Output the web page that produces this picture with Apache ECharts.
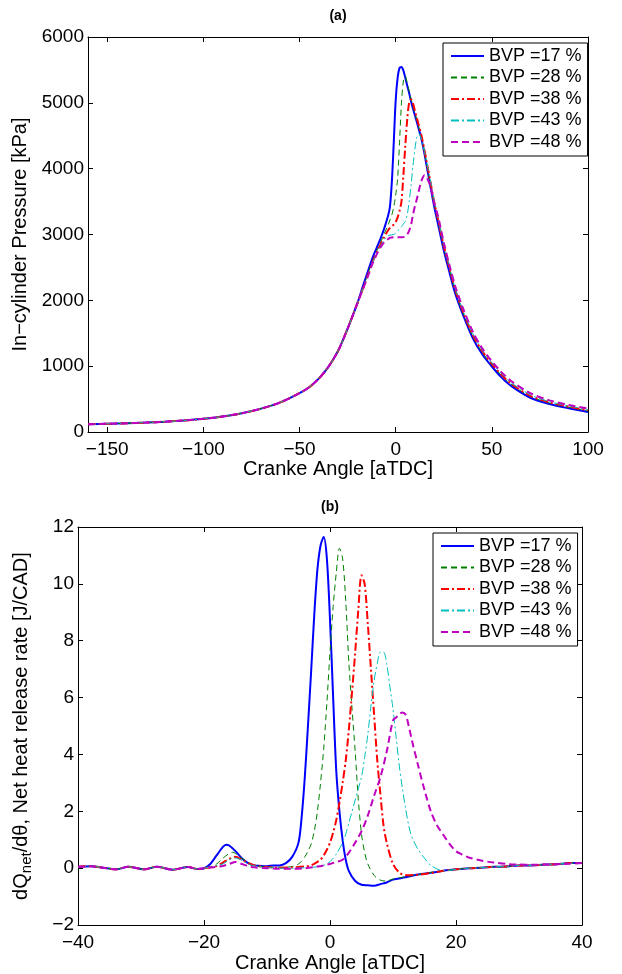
<!DOCTYPE html>
<html>
<head>
<meta charset="utf-8">
<script src="https://cdn.jsdelivr.net/npm/echarts@6/dist/echarts.min.js"></script>
<style>
  html, body { margin: 0; padding: 0; background: #fff; }
  #chart { width: 622px; height: 974px; }
</style>
</head>
<body>
<div id="chart"></div>
<script>
// series names
const names = ['BVP =17 %', 'BVP =28 %', 'BVP =38 %', 'BVP =43 %', 'BVP =48 %']

// ---- (a) in-cylinder pressure [kPa] vs crank angle ----
const caTop = [-160, -150, -140, -130, -120, -110, -100, -90, -80, -70, -60, -50, -45, -40, -35, -30, -25, -20,
  -17, -14, -12, -10, -8, -6, -4, -3, -2, -1, 0, 1, 2, 3, 4, 5, 6, 7, 8, 9, 10, 11, 12, 13, 14, 15, 16,
  18, 20, 22, 25, 28, 31, 35, 40, 45, 50, 55, 60, 70, 80, 90, 100]
// compression part, same for every case (-160 .. -20)
const pMotored = [118, 125, 133, 143, 157, 175, 200, 235, 285, 355, 450, 590, 680, 810, 990, 1230, 1570, 1950]
// from -17 on
const p17 = [2220, 2480, 2650, 2790, 2930, 3090, 3280, 3420, 3800, 4400, 5040, 5380, 5530, 5545, 5490, 5380, 5260,
  5150, 5020, 4910, 4810, 4710, 4600, 4500, 4370, 4220, 4060,
  3740, 3430, 3160, 2760, 2420, 2100, 1780, 1430, 1180, 995, 830, 700, 520, 425, 360, 305]
const p28 = [2190, 2440, 2600, 2740, 2870, 3010, 3140, 3220, 3300, 3420, 3600, 3850, 4400, 5000, 5330, 5400, 5300,
  5180, 5060, 4950, 4840, 4740, 4630, 4520, 4390, 4250, 4090,
  3780, 3470, 3200, 2800, 2460, 2140, 1810, 1460, 1210, 1020, 860, 725, 540, 440, 375, 320]
const p38 = [2180, 2420, 2580, 2720, 2840, 2960, 3060, 3100, 3130, 3150, 3190, 3260, 3360, 3500, 3900, 4350, 4750,
  5000, 5050, 4990, 4880, 4770, 4660, 4550, 4420, 4280, 4120,
  3810, 3500, 3230, 2830, 2490, 2160, 1830, 1480, 1230, 1035, 870, 735, 550, 450, 385, 330]
const p43 = [2180, 2410, 2570, 2710, 2820, 2920, 2980, 2990, 2995, 3000, 3020, 3050, 3090, 3120, 3160, 3200, 3300,
  3500, 3750, 4050, 4300, 4480, 4540, 4480, 4380, 4260, 4120,
  3830, 3520, 3250, 2850, 2510, 2180, 1850, 1500, 1245, 1050, 885, 750, 565, 460, 395, 340]
const p48 = [2170, 2400, 2560, 2690, 2800, 2880, 2930, 2950, 2955, 2958, 2958, 2958, 2958, 2958, 2960, 2970, 3000,
  3060, 3150, 3300, 3430, 3540, 3660, 3780, 3860, 3900, 3870,
  3740, 3480, 3280, 2880, 2530, 2210, 1880, 1530, 1270, 1075, 910, 775, 590, 480, 410, 355]
const xTicksTop = [-150, -100, -50, 0, 50, 100]

// ---- (b) net heat release rate [J/CAD] vs crank angle, [angle, value] ----
const hrrBase = [[-40, 0.05], [-38, 0.07], [-36, 0.02], [-34, -0.04], [-32, 0.05], [-29.5, -0.04], [-27.5, 0.05],
  [-25, -0.05], [-22.5, 0.04], [-21, -0.03]]
const hrrTail = [[18, -0.09], [20, -0.04], [22, 0.0], [24, 0.02], [26, 0.05], [28, 0.06], [30, 0.1], [32, 0.1],
  [34, 0.13], [36, 0.14], [38, 0.18], [40, 0.18]]
const hrr17 = [[-20, 0.0], [-19, 0.15], [-18, 0.45], [-17, 0.75], [-16.5, 0.83], [-16, 0.8], [-15, 0.6], [-14, 0.35],
  [-13, 0.18], [-12, 0.1], [-11, 0.08], [-10, 0.07], [-9, 0.1], [-8, 0.1], [-7, 0.18], [-6, 0.4], [-5, 0.9],
  [-4.5, 1.8], [-4, 3.2], [-3.5, 5.0], [-3, 6.9], [-2.5, 8.9], [-2, 10.5], [-1.5, 11.35], [-1, 11.65], [-0.5, 10.9],
  [0, 8.75], [0.5, 6.0], [1, 3.4], [1.5, 2.0], [2, 1.0], [2.5, 0.3], [3, -0.1], [4, -0.45], [5, -0.58], [6, -0.6],
  [7, -0.62], [8, -0.56], [9, -0.5], [10, -0.4], [12, -0.32], [14, -0.22], [16, -0.16]]
const hrr28 = [[-20, 0.0], [-19, 0.05], [-18, 0.15], [-17, 0.35], [-16, 0.52], [-15.5, 0.56], [-15, 0.52], [-14, 0.35],
  [-13, 0.2], [-12, 0.1], [-11, 0.06], [-10, 0.04], [-8, 0.03], [-6, 0.06], [-5, 0.15], [-4.5, 0.25], [-4, 0.4],
  [-3.5, 0.6], [-3, 0.85], [-2.5, 1.3], [-2, 2.0], [-1.5, 3.0], [-1, 4.2], [-0.5, 5.8], [0, 7.6], [0.5, 9.2],
  [1, 10.4], [1.5, 11.25], [2, 10.9], [2.5, 9.4], [3, 7.2], [3.5, 5.6], [4, 4.1], [4.5, 2.4], [5, 1.2], [5.5, 0.55],
  [6, 0.15], [7, -0.25], [8, -0.42], [9, -0.45], [10, -0.38], [12, -0.3], [14, -0.22], [16, -0.15]]
const hrr38 = [[-20, 0.0], [-18, 0.08], [-17, 0.2], [-16, 0.33], [-15, 0.4], [-14, 0.3], [-13, 0.18], [-12, 0.1],
  [-10, 0.04], [-8, 0.02], [-6, 0.03], [-4, 0.06], [-3, 0.1], [-2, 0.22], [-1.5, 0.3], [-1, 0.45], [-0.5, 0.65],
  [0, 0.9], [0.5, 1.25], [1, 1.7], [1.5, 2.3], [2, 3.0], [2.5, 3.8], [3, 4.9], [3.5, 6.2], [4, 7.6], [4.5, 9.1],
  [5, 10.3], [5.5, 10.0], [6, 8.6], [6.5, 7.0], [7, 5.4], [7.5, 3.8], [8, 2.6], [8.5, 1.5], [9, 0.9], [10, 0.15],
  [11, -0.15], [12, -0.25], [14, -0.23], [16, -0.17]]
const hrr43 = [[-20, 0.0], [-17, 0.15], [-16, 0.3], [-15, 0.36], [-14, 0.28], [-13, 0.15], [-12, 0.08], [-10, 0.03],
  [-8, 0.0], [-6, 0.0], [-4, 0.02], [-2, 0.05], [-1, 0.1], [0, 0.23], [1, 0.5], [2, 0.9], [2.5, 1.2], [3, 1.6],
  [3.5, 2.0], [4, 2.4], [4.5, 2.8], [5, 3.2], [5.5, 3.9], [6, 4.7], [6.5, 5.7], [7, 6.6], [7.5, 7.2], [8, 7.6],
  [8.5, 7.6], [9, 7.2], [9.5, 6.4], [10, 5.6], [10.5, 4.6], [11, 3.6], [11.5, 2.8], [12, 2.1], [12.5, 1.5],
  [13, 1.1], [14, 0.65], [15, 0.35], [16, 0.1]]
const hrr48 = [[-20, 0.0], [-17, 0.08], [-16, 0.15], [-15, 0.22], [-14, 0.15], [-13, 0.08], [-12, 0.03], [-10, 0.0],
  [-8, -0.02], [-6, -0.02], [-4, 0.0], [-2, 0.06], [-1, 0.1], [0, 0.15], [1, 0.22], [2, 0.3], [3, 0.55], [4, 0.9],
  [5, 1.3], [6, 1.85], [7, 2.55], [8, 3.2], [9, 4.1], [10, 5.2], [10.5, 5.3], [11, 5.42], [11.5, 5.48], [12, 5.4],
  [12.5, 5.0], [13, 4.5], [14, 3.6], [15, 2.75], [16, 2.0], [17, 1.5], [18, 1.17], [19, 0.85], [20, 0.6], [21, 0.48],
  [22, 0.38], [24, 0.27], [26, 0.2], [28, 0.15], [30, 0.13], [32, 0.12], [34, 0.13], [36, 0.14], [38, 0.16], [40, 0.18]]

const FONT = 'Liberation Sans'
const lineStyles = [
  { color: '#0000ff', width: 2, type: 'solid' },
  { color: '#008000', width: 1, type: [6, 4] },
  { color: '#ff0000', width: 2, type: [8, 3, 2, 3] },
  { color: '#00bfbf', width: 1, type: [8, 3, 2, 3] },
  { color: '#bf00bf', width: 2, type: [7, 4] }
]

// plain numbers, with a real minus sign
const minusSign = (v) => String(v).replace('-', '\u2212')

// pressure curves = motored part + each case
const pTop = [p17, p28, p38, p43, p48].map(p => caTop.map((a, i) => [a, i < pMotored.length ? pMotored[i] : p[i - pMotored.length]]))
const hrrBottom = [
  hrrBase.concat(hrr17, hrrTail),
  hrrBase.concat(hrr28, hrrTail),
  hrrBase.concat(hrr38, hrrTail),
  hrrBase.concat(hrr43, hrrTail),
  hrrBase.concat(hrr48)
]

const chart = echarts.init(document.getElementById('chart'), null, { renderer: 'canvas' })

// MATLAB style box: ticks inside on all four sides
function frameAxis (gridIndex, pos, min, max, extra) {
  return Object.assign({
    type: 'value',
    gridIndex: gridIndex,
    position: pos,
    min: min,
    max: max,
    axisLine: { onZero: false, lineStyle: { color: '#000', width: 1 } },
    axisTick: { inside: true, length: 5, lineStyle: { color: '#000' } },
    axisLabel: { color: '#000', fontSize: 19, fontFamily: FONT, formatter: minusSign },
    splitLine: { show: false },
    nameTextStyle: { color: '#000', fontSize: 20, fontFamily: FONT }
  }, extra)
}

const legendBase = {
  orient: 'vertical',
  selectedMode: false,
  backgroundColor: '#fff',
  borderColor: '#000',
  borderWidth: 1,
  borderRadius: 0,
  padding: [3, 6, 4, 7],
  itemGap: 1.5,
  itemWidth: 33,
  itemHeight: 14,
  itemStyle: { opacity: 0 },
  textStyle: { color: '#000', fontSize: 18, fontFamily: FONT, lineHeight: 20 },
  data: names
}

const option = {
  backgroundColor: '#fff',
  animation: false,
  grid: [
    { left: 88, top: 37, width: 500, height: 395 },
    { left: 78, top: 527, width: 504, height: 400 }
  ],
  xAxis: [
    frameAxis(0, 'bottom', -160, 100, {
      axisTick: { inside: true, length: 5, customValues: xTicksTop, lineStyle: { color: '#000' } },
      axisLabel: { color: '#000', fontSize: 19, fontFamily: FONT, margin: 8, customValues: xTicksTop, formatter: minusSign },
      name: 'Cranke Angle [aTDC]', nameLocation: 'middle', nameGap: 26
    }),
    frameAxis(1, 'bottom', -40, 40, {
      interval: 20,
      axisLabel: { color: '#000', fontSize: 19, fontFamily: FONT, margin: 8, formatter: minusSign },
      name: 'Cranke Angle [aTDC]', nameLocation: 'middle', nameGap: 26
    }),
    frameAxis(0, 'top', -160, 100, {
      axisTick: { inside: true, length: 5, customValues: xTicksTop, lineStyle: { color: '#000' } },
      axisLabel: { show: false }
    }),
    frameAxis(1, 'top', -40, 40, { interval: 20, axisLabel: { show: false } })
  ],
  yAxis: [
    frameAxis(0, 'left', 0, 6000, {
      interval: 1000,
      axisLabel: { color: '#000', fontSize: 19, fontFamily: FONT, margin: 4, formatter: minusSign },
      name: 'In\u2212cylinder Pressure [kPa]', nameLocation: 'middle', nameGap: 42
    }),
    frameAxis(1, 'left', -2, 12, {
      interval: 2,
      axisLabel: { color: '#000', fontSize: 19, fontFamily: FONT, margin: 4, formatter: minusSign },
      name: 'dQ{sub|net}/d\u03b8, Net heat release rate [J/CAD]',
      nameLocation: 'middle',
      nameGap: 44,
      nameTextStyle: {
        color: '#000', fontSize: 20, fontFamily: FONT,
        rich: { sub: { fontSize: 15, fontFamily: FONT, color: '#000', padding: [10, 0, 0, 0] } }
      }
    }),
    frameAxis(0, 'right', 0, 6000, { interval: 1000, axisLabel: { show: false } }),
    frameAxis(1, 'right', -2, 12, { interval: 2, axisLabel: { show: false } })
  ],
  legend: [
    Object.assign({ left: 443, top: 43 }, legendBase),
    Object.assign({ left: 433, top: 533 }, legendBase)
  ],
  graphic: [
    { type: 'text', x: 338, y: 16, style: { text: '(a)', align: 'center', verticalAlign: 'middle', font: 'bold 14px "Liberation Sans"', fill: '#000' } },
    { type: 'text', x: 330, y: 507, style: { text: '(b)', align: 'center', verticalAlign: 'middle', font: 'bold 14px "Liberation Sans"', fill: '#000' } }
  ],
  series: []
}

names.forEach((n, i) => {
  option.series.push({
    name: n, type: 'line', xAxisIndex: 0, yAxisIndex: 0,
    data: pTop[i], symbol: 'none', smooth: 0.3,
    lineStyle: lineStyles[i], itemStyle: { color: lineStyles[i].color }
  })
})
names.forEach((n, i) => {
  option.series.push({
    name: n, type: 'line', xAxisIndex: 1, yAxisIndex: 1,
    data: hrrBottom[i], symbol: 'none', smooth: 0.3,
    lineStyle: lineStyles[i], itemStyle: { color: lineStyles[i].color }
  })
})

chart.setOption(option)
</script>
</body>
</html>
